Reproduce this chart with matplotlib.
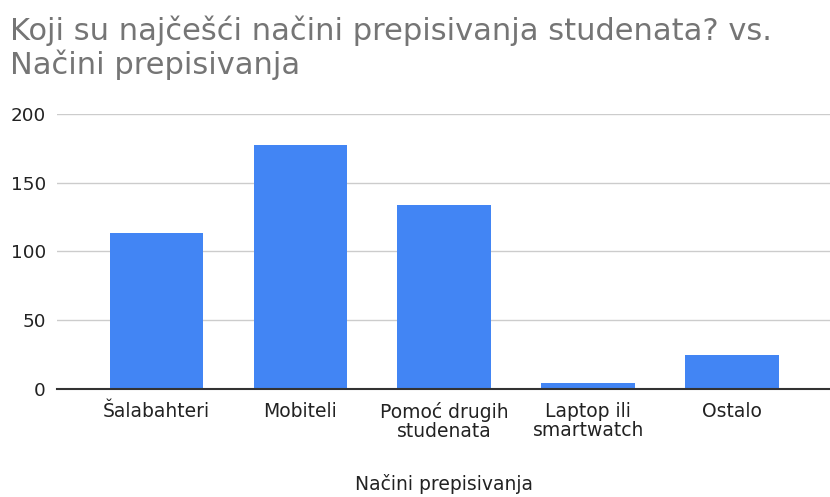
import matplotlib
matplotlib.use("Agg")
import matplotlib.pyplot as plt

categories = ["Šalabahteri", "Mobiteli", "Pomoć drugih\nstudenata", "Laptop ili\nsmartwatch", "Ostalo"]
values = [113, 177, 134, 4, 25]
yticks = [0, 50, 100, 150, 200]
title_lines = ["Koji su najčešći načini prepisivanja studenata? vs.", "Načini prepisivanja"]

plt.rcParams['font.family'] = ['DejaVu Sans']

W, H = 830, 497
fig = plt.figure(figsize=(W / 100, H / 100), dpi=100)
ax = fig.add_axes([0.0687, 0.2173, 0.9313, 0.5539])

x = list(range(len(categories)))
ax.bar(x, values, width=0.65, color="#4285F4", zorder=3)

ax.set_ylim(0, 200)
ax.set_xlim(-0.69, 4.68)
ax.set_yticks(yticks)
ax.set_yticklabels([str(v) for v in yticks])
ax.set_xticks(x)
ax.set_xticklabels(categories, linespacing=1.0)

ax.grid(axis='y', color="#cccccc", linewidth=1, zorder=0)
for s in ['top', 'right', 'left']:
    ax.spines[s].set_visible(False)
ax.spines['bottom'].set_color("#333333")
ax.spines['bottom'].set_linewidth(1.5)
ax.spines['bottom'].set_zorder(4)

ax.tick_params(axis='y', length=0, pad=8, labelsize=13.2, labelcolor="#222222")
ax.tick_params(axis='x', length=0, pad=9, labelsize=13.5, labelcolor="#222222")

ax.set_xlabel("Načini prepisivanja", fontsize=13.5, color="#222222", labelpad=24)

for line, ypix in zip(title_lines, [40, 74]):
    fig.text(10 / W, 1 - ypix / H, line, fontsize=22, color="#757575",
             ha='left', va='baseline')

fig.savefig("out.png", dpi=100)
